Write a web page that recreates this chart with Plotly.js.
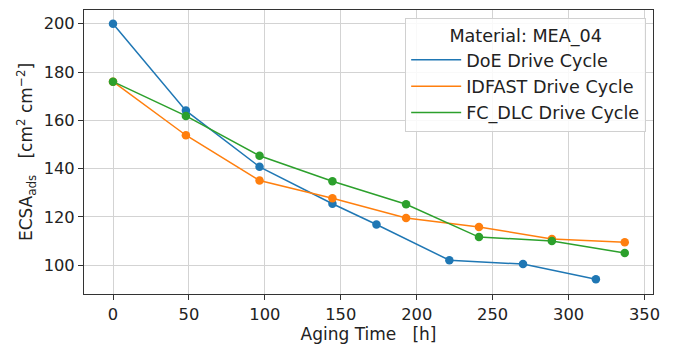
<!DOCTYPE html>
<html>
<head>
<meta charset="utf-8">
<script src="https://cdn.plot.ly/plotly-3.0.1.min.js"></script>
<style>html,body{margin:0;padding:0;background:#fff;}#chart{width:678px;height:344px;}</style>
</head>
<body>
<div id="chart"></div>
<script>
// Data
const doeTime = [0, 48, 96.5, 144.5, 173.5, 221.5, 270, 318];
const doeEcsa = [200, 164, 140.7, 125.4, 116.8, 102, 100.4, 94.1];
const idfastTime = [0, 48, 96.5, 144.5, 193, 241, 289, 337];
const idfastEcsa = [176, 153.8, 135, 127.7, 119.5, 115.8, 110.8, 109.4];
const fcdlcTime = [0, 48, 96.5, 144.5, 193, 241, 289, 337];
const fcdlcEcsa = [176, 161.8, 145.3, 134.7, 125.2, 111.6, 110, 105];
const seriesNames = ["DoE Drive Cycle", "IDFAST Drive Cycle", "FC_DLC Drive Cycle"];
const colors = ["#1f77b4", "#ff7f0e", "#2ca02c"];
const xTicks = [0, 50, 100, 150, 200, 250, 300, 350];
const yTicks = [100, 120, 140, 160, 180, 200];

const series = [[doeTime, doeEcsa], [idfastTime, idfastEcsa], [fcdlcTime, fcdlcEcsa]];
const traces = [];
series.forEach(([x, y], i) => {
  traces.push({x: x, y: y, type: "scatter", mode: "lines", name: seriesNames[i],
    legendgroup: "g" + i,
    line: {color: colors[i], width: 1.5}, showlegend: true});
});
series.forEach(([x, y], i) => {
  traces.push({x: x, y: y, type: "scatter", mode: "markers", name: seriesNames[i],
    legendgroup: "g" + i,
    marker: {color: colors[i], size: 8.5}, showlegend: false, hoverinfo: "skip"});
});

const fam = "DejaVu Sans, sans-serif";
const tickFont = {family: fam, size: 16.3, color: "#222"};
const labelFont = {family: fam, size: 17, color: "#222"};
const legendFont = {family: fam, size: 17.6, color: "#222"};
const axisCommon = {
  showline: true, mirror: true, linecolor: "#333", linewidth: 1,
  ticks: "outside", ticklen: 5, tickcolor: "#333", tickwidth: 1,
  showgrid: true, gridcolor: "#d3d3d3", gridwidth: 1, zeroline: false,
  tickfont: tickFont
};
const layout = {
  width: 678, height: 344,
  margin: {l: 84, r: 25, t: 10, b: 50},
  paper_bgcolor: "#fff", plot_bgcolor: "#fff",
  font: tickFont,
  xaxis: Object.assign({}, axisCommon, {
    range: [-19.1, 355.6], tickvals: xTicks, ticktext: xTicks.map(String),
    title: {text: "Aging Time   [h]", font: labelFont, standoff: 4}
  }),
  yaxis: Object.assign({}, axisCommon, {
    range: [88, 205.7], tickvals: yTicks, ticktext: yTicks.map(String),
    title: {text: "ECSA<sub>ads</sub>   [cm<sup>2</sup> cm<sup>\u22122</sup>]", font: labelFont, standoff: 6}
  }),
  legend: {
    x: 0.988, xanchor: "right", y: 0.972, yanchor: "top",
    bgcolor: "rgba(255,255,255,0.85)", bordercolor: "#d0d0d0", borderwidth: 1,
    font: legendFont,
    itemwidth: 50,
    title: {text: "Material: MEA_04", font: legendFont, side: "top center"},
    tracegroupgap: 0.5
  },
  showlegend: true
};
Plotly.newPlot("chart", traces, layout, {displayModeBar: false, staticPlot: true});
</script>
</body>
</html>
